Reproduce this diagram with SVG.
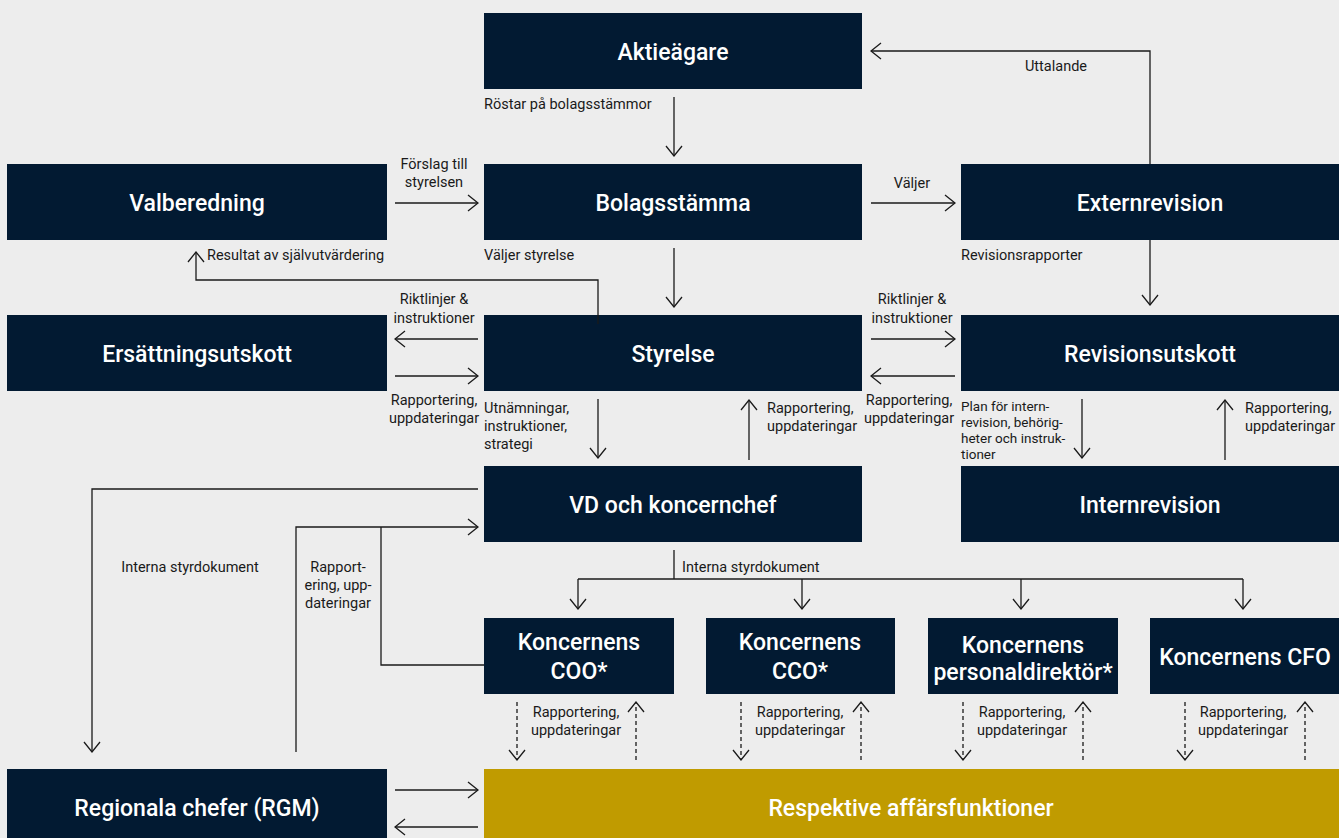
<svg xmlns="http://www.w3.org/2000/svg" width="1339" height="838" viewBox="0 0 1339 838">
<defs>
<marker id="ah" viewBox="0 0 12 18" refX="11" refY="9" markerWidth="12" markerHeight="18" markerUnits="userSpaceOnUse" orient="auto">
<path d="M1,1 L11,9 L1,17" fill="none" stroke="#1a1a1a" stroke-width="1.3"/>
</marker>
<style>
.bx{fill:#021a32}
.gd{fill:#c09b00}
.nt{font-family:Roboto,"Liberation Sans",sans-serif;font-weight:500;font-size:23px;fill:#fff;text-anchor:middle}
.lb{font-family:Roboto,"Liberation Sans",sans-serif;font-size:14.5px;fill:#1a1a1a}
.sm{font-family:Roboto,"Liberation Sans",sans-serif;font-size:13.5px;fill:#1a1a1a}
.c{text-anchor:middle}
.ln{fill:none;stroke:#1a1a1a;stroke-width:1.3}
.ar{marker-end:url(#ah)}
.ds{stroke-dasharray:4 3}
</style>
</defs>
<rect width="1339" height="838" fill="#ededed"/>

<g id="aktieagare"><rect class="bx" x="484" y="13" width="378" height="76"/><text class="nt" x="673" y="60">Aktieägare</text></g>
<g id="valberedning"><rect class="bx" x="7" y="164" width="380" height="76"/><text class="nt" x="197" y="211">Valberedning</text></g>
<g id="bolagsstamma"><rect class="bx" x="484" y="164" width="378" height="76"/><text class="nt" x="673" y="211">Bolagsstämma</text></g>
<g id="externrevision"><rect class="bx" x="961" y="164" width="378" height="76"/><text class="nt" x="1150" y="211">Externrevision</text></g>
<g id="ersattningsutskott"><rect class="bx" x="7" y="315" width="380" height="76"/><text class="nt" x="197" y="362">Ersättningsutskott</text></g>
<g id="styrelse"><rect class="bx" x="484" y="315" width="378" height="76"/><text class="nt" x="673" y="362">Styrelse</text></g>
<g id="revisionsutskott"><rect class="bx" x="961" y="315" width="378" height="76"/><text class="nt" x="1150" y="362">Revisionsutskott</text></g>
<g id="vd"><rect class="bx" x="484" y="466" width="378" height="76"/><text class="nt" x="673" y="513">VD och koncernchef</text></g>
<g id="internrevision"><rect class="bx" x="961" y="466" width="378" height="76"/><text class="nt" x="1150" y="513">Internrevision</text></g>
<g id="coo"><rect class="bx" x="484" y="618" width="190" height="76"/><text class="nt" x="579" y="650">Koncernens</text><text class="nt" x="579" y="679">COO*</text></g>
<g id="cco"><rect class="bx" x="706" y="618" width="189" height="76"/><text class="nt" x="800" y="650">Koncernens</text><text class="nt" x="800" y="679">CCO*</text></g>
<g id="personal"><rect class="bx" x="928" y="618" width="190" height="76"/><text class="nt" x="1023" y="653">Koncernens</text><text class="nt" x="1023" y="680">personaldirektör*</text></g>
<g id="cfo"><rect class="bx" x="1150" y="618" width="189" height="76"/><text class="nt" x="1245" y="665">Koncernens CFO</text></g>
<g id="regionala"><rect class="bx" x="7" y="769" width="380" height="69"/><text class="nt" x="197" y="816">Regionala chefer (RGM)</text></g>
<g id="respektive"><rect class="gd" x="484" y="769" width="855" height="69"/><text class="nt" x="911" y="816">Respektive affärsfunktioner</text></g>

<g id="connectors">
<path class="ln ar" d="M674,97 V156"/>
<path class="ln ar" d="M1150,164 V51 H871"/>
<path class="ln ar" d="M395,203 H478"/>
<path class="ln ar" d="M871,203 H955"/>
<path class="ln ar" d="M674,248 V307"/>
<path class="ln ar" d="M1150,240 V305"/>
<path class="ln ar" d="M598,324 V280 H196 V252"/>
<path class="ln ar" d="M478,339 H395"/>
<path class="ln ar" d="M395,376 H478"/>
<path class="ln ar" d="M871,339 H955"/>
<path class="ln ar" d="M955,376 H871"/>
<path class="ln ar" d="M598,399 V458"/>
<path class="ln ar" d="M749,460 V400"/>
<path class="ln ar" d="M1082,399 V458"/>
<path class="ln ar" d="M1225,460 V400"/>
<path class="ln ar" d="M478,489 H92 V752"/>
<path class="ln ar" d="M296,752 V527 H478"/>
<path class="ln" d="M484,665 H381 V527"/>
<path class="ln" d="M674,550 V579"/>
<path class="ln" d="M578,579 H1243"/>
<path class="ln ar" d="M578,579 V609"/>
<path class="ln ar" d="M802,579 V609"/>
<path class="ln ar" d="M1021,579 V609"/>
<path class="ln ar" d="M1243,579 V609"/>
<path class="ln ds ar" d="M517,702 V760"/>
<path class="ln ds ar" d="M636,760 V702"/>
<path class="ln ds ar" d="M741,702 V760"/>
<path class="ln ds ar" d="M861,760 V702"/>
<path class="ln ds ar" d="M963,702 V760"/>
<path class="ln ds ar" d="M1083,760 V702"/>
<path class="ln ds ar" d="M1185,702 V760"/>
<path class="ln ds ar" d="M1305,760 V702"/>
<path class="ln ar" d="M395,790 H478"/>
<path class="ln ar" d="M478,827 H395"/>
</g>

<g id="labels">
<text class="lb" x="484" y="109">Röstar på bolagsstämmor</text>
<text class="lb c" x="1056" y="71">Uttalande</text>
<text class="lb c" x="434" y="169">Förslag till</text>
<text class="lb c" x="434" y="187">styrelsen</text>
<text class="lb c" x="912" y="188">Väljer</text>
<text class="lb" x="484" y="260">Väljer styrelse</text>
<text class="lb" x="961" y="260">Revisionsrapporter</text>
<text class="lb" x="207" y="260">Resultat av självutvärdering</text>
<text class="lb c" x="434" y="304">Riktlinjer &amp;</text>
<text class="lb c" x="434" y="323">instruktioner</text>
<text class="lb c" x="434" y="405">Rapportering,</text>
<text class="lb c" x="434" y="423">uppdateringar</text>
<text class="lb c" x="912" y="304">Riktlinjer &amp;</text>
<text class="lb c" x="912" y="323">instruktioner</text>
<text class="lb c" x="909" y="405">Rapportering,</text>
<text class="lb c" x="909" y="423">uppdateringar</text>
<text class="lb" x="484" y="413">Utnämningar,</text>
<text class="lb" x="484" y="431">instruktioner,</text>
<text class="lb" x="484" y="449">strategi</text>
<text class="lb" x="767" y="413">Rapportering,</text>
<text class="lb" x="767" y="431">uppdateringar</text>
<text class="sm" x="961" y="411">Plan för intern-</text>
<text class="sm" x="961" y="427">revision, behörig-</text>
<text class="sm" x="961" y="443">heter och instruk-</text>
<text class="sm" x="961" y="459">tioner</text>
<text class="lb" x="1245" y="413">Rapportering,</text>
<text class="lb" x="1245" y="431">uppdateringar</text>
<text class="lb c" x="190" y="572">Interna styrdokument</text>
<text class="lb c" x="338" y="572">Rapport-</text>
<text class="lb c" x="338" y="590">ering, upp-</text>
<text class="lb c" x="338" y="608">dateringar</text>
<text class="lb" x="682" y="572">Interna styrdokument</text>
<text class="lb c" x="576" y="717">Rapportering,</text>
<text class="lb c" x="576" y="735">uppdateringar</text>
<text class="lb c" x="800" y="717">Rapportering,</text>
<text class="lb c" x="800" y="735">uppdateringar</text>
<text class="lb c" x="1022" y="717">Rapportering,</text>
<text class="lb c" x="1022" y="735">uppdateringar</text>
<text class="lb c" x="1243" y="717">Rapportering,</text>
<text class="lb c" x="1243" y="735">uppdateringar</text>
</g>
</svg>
